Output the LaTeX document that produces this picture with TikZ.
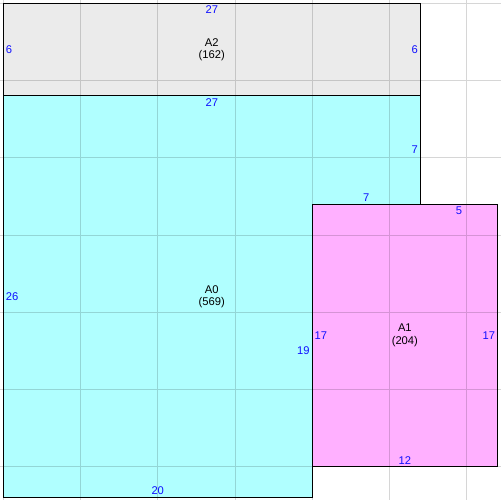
\documentclass[tikz,border=0pt]{standalone}
\usepackage{fontspec}
\setmainfont{Liberation Sans}
\definecolor{areagray}{HTML}{EBEBEB}
\definecolor{areacyan}{HTML}{B0FFFF}
\definecolor{areapink}{HTML}{FFB0FF}
\definecolor{numblue}{HTML}{1010FF}
\tikzset{
	gridline/.style={draw=black, draw opacity=0.16, line width=0.9pt},
	border/.style={draw=black, line width=1pt},
	edgenum/.style={text=numblue, inner sep=2.3pt},
	arealbl/.style={align=center, inner sep=0pt}
}
\begin{document}
\begin{tikzpicture}[line cap=butt, line join=miter, x=15.444pt, y=-15.444pt,
	font=\fontsize{11.2}{12.5}\selectfont]
	\useasboundingbox (-0.214,-0.214) rectangle (32.16,32.16);
	% fills
	\fill[areagray] (0,0) rectangle (27,6);
	\fill[areacyan] (0,6) -- (27,6) -- (27,13) -- (20,13) -- (20,32) -- (0,32) -- cycle;
	\fill[areapink] (20,13) rectangle (32,30);
	% grid
	\draw[gridline] \foreach \k in {0,5,...,30} {(\k,-0.5) -- (\k,32.5) (-0.5,\k) -- (32.5,\k)};
	% borders
	\draw[border] (0,0) rectangle (27,6);
	\draw[border] (0,6) -- (27,6) -- (27,13) -- (20,13) -- (20,32) -- (0,32) -- cycle;
	\draw[border] (20,13) rectangle (32,30);
	% areas
	\node[arealbl] (a2) at (13.5,3) {A2\\(162)};
	\node[arealbl] (a0) at (13.5,19) {A0\\(569)};
	\node[arealbl] (a1) at (26,21.5) {A1\\(204)};
	% side lengths
	\foreach \x/\y/\t/\a [count=\i] in {13.5/0/27/north, 0/3/6/west, 27/3/6/east,
		13.5/6/27/north, 0/19/26/west, 27/9.5/7/east, 23.5/13/7/south,
		20/22.5/19/east, 10/32/20/south, 29.5/13/5/north, 20/21.5/17/west,
		32/21.5/17/east, 26/30/12/south} {
		\node[edgenum, anchor=\a] (n\i) at (\x,\y) {\t};
	}
\end{tikzpicture}
\end{document}
